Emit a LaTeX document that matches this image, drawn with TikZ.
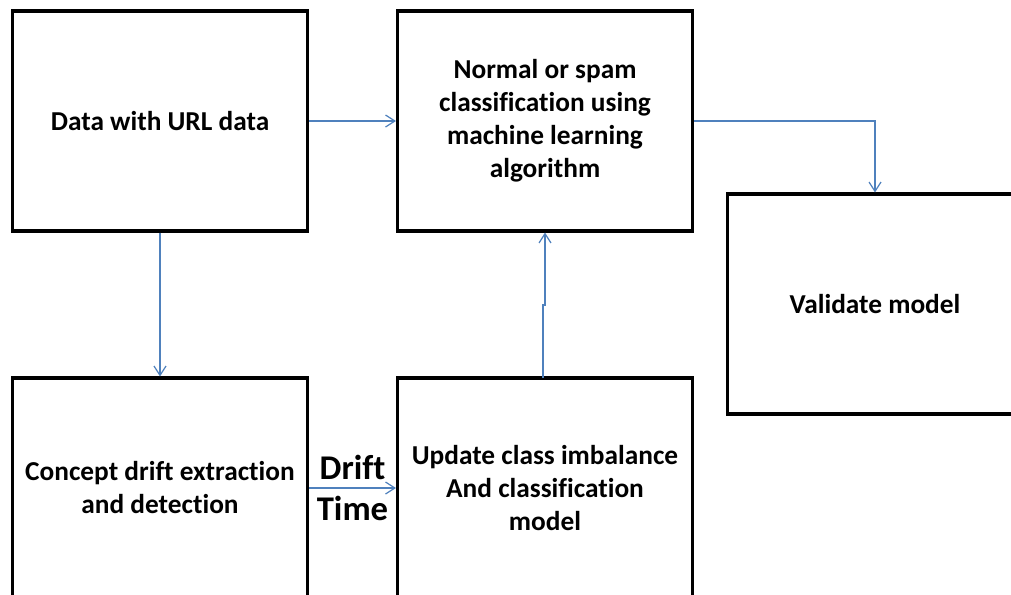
\documentclass[tikz,border=0pt]{standalone}
\usepackage{fontspec}
\setmainfont[Ligatures=NoCommon]{Carlito}
\usetikzlibrary{arrows.meta}
\definecolor{arrowblue}{HTML}{4F81BD}
\tikzset{
  box/.style={draw=black, line width=2.3pt, rectangle, inner sep=2pt,
    minimum width=221.25pt, minimum height=165pt, align=center,
    font=\fontsize{20.5pt}{24.75pt}\selectfont\bfseries},
  conn/.style={draw=arrowblue, line width=0.9pt,
    -{Straight Barb[length=7pt,width=9pt,line width=0.9pt]}},
  lbl/.style={align=center, inner sep=0pt,
    font=\fontsize{26pt}{30.75pt}\selectfont\bfseries}
}
\begin{document}
\begin{tikzpicture}[x=0.75pt,y=-0.75pt]
\clip (0,0) rectangle (1011,594);
\fill[white] (0,0) rectangle (1011,594);
\node[box] (A) at (160,121) {Data with URL data};
\node[box] (B) at (545,121) {Normal or spam\\classification using\\machine learning\\algorithm};
\node[box] (C) at (875,304) {Validate model};
\node[box] (D) at (160,488) {Concept drift extraction\\and detection};
\node[box] (E) at (545,488) {Update class imbalance\\And classification\\model};
\coordinate (j1) at (543,305);
\coordinate (j2) at (545,305);
\coordinate (e0) at (543,378);
\draw[conn] (A.east) -- (B.west);
\draw[conn] (A.south) -- (D.north);
\draw[conn] (D.east) -- (E.west);
\draw[conn] (B.east) -| (C.north);
\draw[conn] (e0) -- (j1) -- (j2) -- (B.south);
\node[lbl] (dt) at (352.5,488) {Drift\\Time};
\end{tikzpicture}
\end{document}
